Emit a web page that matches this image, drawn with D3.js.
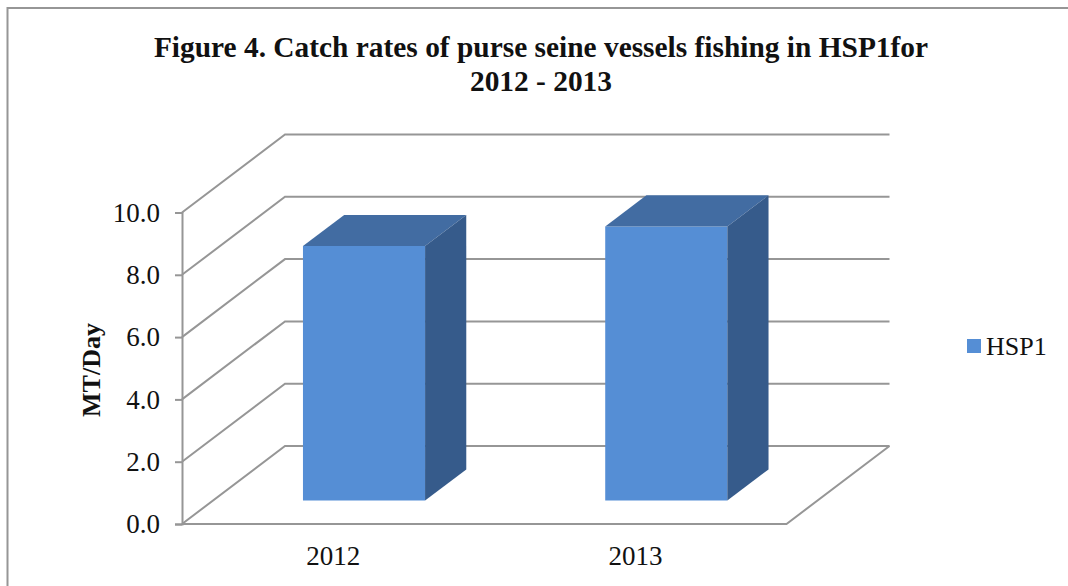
<!DOCTYPE html>
<html>
<head>
<meta charset="utf-8">
<script src="https://cdn.jsdelivr.net/npm/d3@7"></script>
<style>
  html, body { margin: 0; padding: 0; background: #fff; }
  svg { display: block; }
  text { font-family: "Liberation Serif", serif; fill: #111; }
</style>
</head>
<body>
<svg id="chart" width="1068" height="586"></svg>
<script>
const years = ["2012", "2013"];
const catchRates = [8.17, 8.8];
const yTicks = [0, 2, 4, 6, 8, 10];
const seriesName = "HSP1";
const titleLines = ["Figure 4. Catch rates of purse seine vessels fishing in HSP1for", "2012 - 2013"];
const yLabel = "MT/Day";

const svg = d3.select("#chart");
const gridColor = "#969696";

// Scales for the front plane of the 3D box
const x = d3.scaleBand().domain(years).range([182, 786.5]).paddingInner(0.596).paddingOuter(0.298);
const y = d3.scaleLinear().domain([0, 10]).range([524, 212.5]);

// Depth of the floor, and how far the bars sit inside it
const depth = { dx: 103, dy: -78 };
const barFront = 0.3, barBack = 0.7;
const shift = (t) => [depth.dx * t, depth.dy * t];

// Outer frame
svg.append("path")
    .attr("d", "M1068,8H7.5V586")
    .attr("fill", "none")
    .attr("stroke", gridColor)
    .attr("stroke-width", 2);

// Walls: side wall diagonal and back wall line for each tick
const grid = svg.append("g").attr("fill", "none").attr("stroke", gridColor).attr("stroke-width", 2);
grid.selectAll("path")
    .data(yTicks)
    .join("path")
    .attr("d", d => `M182,${y(d)}L${182 + depth.dx},${y(d) + depth.dy}H${786.5 + depth.dx}`);

// Floor edges
grid.append("path")
    .attr("d", `M182,${y(0)}H786.5L${786.5 + depth.dx},${y(0) + depth.dy}`);

// Y axis
const yAxis = svg.append("g")
    .attr("transform", "translate(182,0)")
    .call(d3.axisLeft(y).tickValues(yTicks).tickFormat(d3.format(".1f")).tickSize(7).tickPadding(15));
yAxis.select(".domain").attr("stroke", gridColor).attr("stroke-width", 2);
yAxis.selectAll(".tick line").attr("stroke", gridColor).attr("stroke-width", 2);
yAxis.selectAll("text").attr("font-family", null).style("font-size", "27px").attr("fill", null);

// X labels
svg.append("g").selectAll("text")
    .data(years)
    .join("text")
    .attr("x", d => x(d) + x.bandwidth() / 2)
    .attr("y", 565)
    .attr("text-anchor", "middle")
    .attr("font-size", 27)
    .text(d => d);

// Bars
const bars = svg.append("g").selectAll("g")
    .data(years.map((yr, i) => ({ yr, value: catchRates[i] })))
    .join("g");

const pts = (list) => list.map(p => p.join(",")).join(" ");

bars.each(function(d) {
    const g = d3.select(this);
    const [fx, fy] = shift(barFront);
    const [bx, by] = shift(barBack);
    const left = x(d.yr), right = left + x.bandwidth();
    const top = y(d.value), bottom = y(0);
    // front face
    g.append("polygon")
        .attr("fill", "#558ed5")
        .attr("points", pts([[left + fx, top + fy], [right + fx, top + fy], [right + fx, bottom + fy], [left + fx, bottom + fy]]));
    // top face
    g.append("polygon")
        .attr("fill", "#426ca2")
        .attr("points", pts([[left + fx, top + fy], [right + fx, top + fy], [right + bx, top + by], [left + bx, top + by]]));
    // side face
    g.append("polygon")
        .attr("fill", "#365b8b")
        .attr("points", pts([[right + fx, top + fy], [right + bx, top + by], [right + bx, bottom + by], [right + fx, bottom + fy]]));
});

// Title
svg.append("g").selectAll("text")
    .data(titleLines)
    .join("text")
    .attr("x", 541)
    .attr("y", (d, i) => 57 + i * 34)
    .attr("text-anchor", "middle")
    .attr("font-size", 29.4)
    .attr("font-weight", "bold")
    .text(d => d);

// Y axis title
svg.append("text")
    .attr("transform", "translate(100,370) rotate(-90)")
    .attr("text-anchor", "middle")
    .attr("font-size", 26)
    .attr("font-weight", "bold")
    .text(yLabel);

// Legend
svg.append("rect").attr("x", 967).attr("y", 339).attr("width", 14).attr("height", 14).attr("fill", "#558ed5");
svg.append("text").attr("x", 986).attr("y", 355).attr("font-size", 26).text(seriesName);
</script>
</body>
</html>
